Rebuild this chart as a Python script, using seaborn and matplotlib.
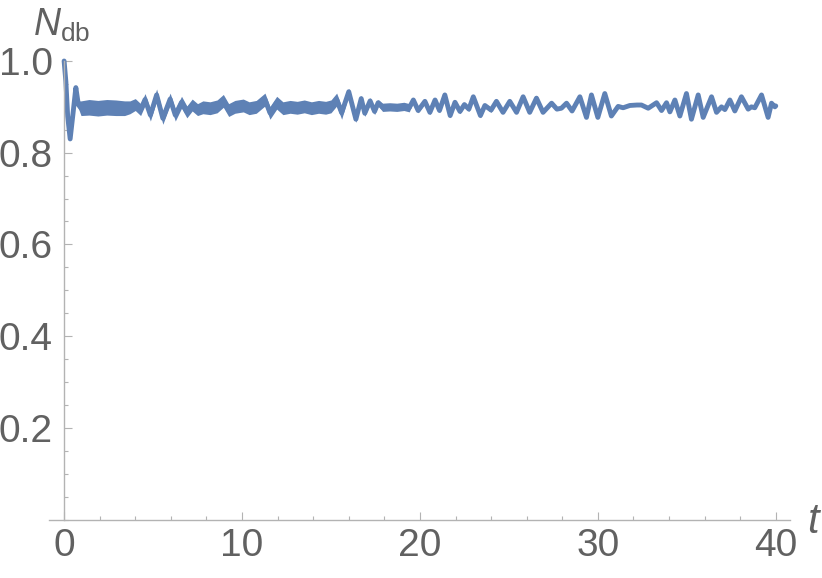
import numpy as np
import pandas as pd
import matplotlib
matplotlib.use('Agg')
import matplotlib.pyplot as plt
from matplotlib.ticker import MultipleLocator
import seaborn as sns

# N_db(t), piece by piece (centre line + half width of the fast jitter band)
t_start = [0.0, 0.1, 0.2, 0.34, 0.5, 0.66, 0.8, 0.95, 1.4, 1.9, 2.4, 2.9, 3.4, 3.7]
n_start = [1.000, 0.955, 0.880, 0.830, 0.885, 0.942, 0.905, 0.897, 0.899, 0.897, 0.899, 0.898, 0.897, 0.899]
band_start = [0.0, 0.0, 0.0, 0.001, 0.001, 0.001, 0.008, 0.016, 0.017, 0.017, 0.017, 0.017, 0.016, 0.014]

t_early = [4.0, 4.3, 4.55, 4.85, 5.2, 5.55, 5.96, 6.25, 6.6, 6.9, 7.2, 7.5]
n_early = [0.905, 0.894, 0.916, 0.882, 0.926, 0.875, 0.917, 0.882, 0.910, 0.889, 0.904, 0.894]

t_mid = [7.8, 8.2, 8.6, 8.95, 9.25, 9.6, 10.07, 10.4, 10.8, 11.29, 11.57, 11.95,
         12.3, 12.7, 13.1, 13.5, 13.9, 14.3, 14.7, 15.0, 15.32, 15.6]
n_mid = [0.899, 0.897, 0.901, 0.913, 0.893, 0.900, 0.903, 0.897, 0.900, 0.916, 0.887, 0.909,
         0.897, 0.900, 0.898, 0.901, 0.897, 0.900, 0.898, 0.901, 0.916, 0.887]

t_beat = [16.0, 16.4, 16.7, 16.9, 17.2, 17.45, 17.65]
n_beat = [0.933, 0.873, 0.918, 0.886, 0.913, 0.890, 0.909]

t_calm = [17.9, 18.3, 18.7, 19.1, 19.4]
n_calm = [0.899, 0.900, 0.899, 0.901, 0.898]

t_late = [19.63, 19.9, 20.28, 20.56, 20.85, 21.1, 21.4, 21.7, 21.97, 22.25, 22.5, 22.75,
          23.0, 23.4, 23.65, 24.0]
n_late = [0.915, 0.892, 0.912, 0.888, 0.915, 0.892, 0.926, 0.881, 0.910, 0.890, 0.905, 0.895,
          0.922, 0.881, 0.903, 0.893]

t_tail = [24.3, 24.67, 25.05, 25.43, 25.8, 26.17, 26.55, 26.92, 27.4, 27.7,
          27.95, 28.24, 28.55, 28.99, 29.36, 29.64, 30.0, 30.39, 30.76, 31.14,
          31.42, 31.8, 32.2, 32.45, 32.83, 33.3, 33.58, 33.86, 34.05, 34.33,
          34.61, 34.98, 35.26, 35.64, 35.92, 36.39, 36.67, 36.95, 37.14, 37.42,
          37.7, 38.07, 38.45, 38.63, 38.82, 39.2, 39.57, 39.76, 39.95, 40.0]
n_tail = [0.912, 0.888, 0.912, 0.888, 0.922, 0.888, 0.919, 0.888, 0.908, 0.895,
          0.897, 0.908, 0.891, 0.922, 0.877, 0.926, 0.877, 0.929, 0.880, 0.901,
          0.898, 0.903, 0.904, 0.904, 0.897, 0.909, 0.892, 0.909, 0.889, 0.915,
          0.880, 0.929, 0.873, 0.926, 0.877, 0.922, 0.888, 0.900, 0.894, 0.915,
          0.891, 0.922, 0.895, 0.900, 0.898, 0.926, 0.877, 0.908, 0.900, 0.902]

# half width of the jitter band for each piece after the start
band_pieces = {'early': 0.013, 'mid': 0.014, 'beat': 0.007, 'calm': 0.009, 'late': 0.005, 'tail': 0.002}

x_ticks = [0, 10, 20, 30, 40]
y_ticks = [0.2, 0.4, 0.6, 0.8, 1.0]

pieces = [
    (t_early, n_early, 'early'), (t_mid, n_mid, 'mid'), (t_beat, n_beat, 'beat'),
    (t_calm, n_calm, 'calm'), (t_late, n_late, 'late'), (t_tail, n_tail, 'tail'),
]
t_all = list(t_start)
n_all = list(n_start)
band_all = list(band_start)
for ts, ns, key in pieces:
    t_all += ts
    n_all += ns
    band_all += [band_pieces[key]] * len(ts)

df = pd.DataFrame({'t': t_all, 'N': n_all, 'band': band_all})

sns.set_style('white')
plt.rcParams['font.family'] = ['Liberation Sans', 'DejaVu Sans']
plt.rcParams['mathtext.fontset'] = 'custom'
plt.rcParams['mathtext.rm'] = 'Liberation Sans'
plt.rcParams['mathtext.it'] = 'Liberation Sans:italic'

line_col = '#5E81B5'
axis_col = '#b3b3b3'
text_col = '#616161'

fig = plt.figure(figsize=(8.22, 5.78), dpi=100)
ax = fig.add_axes([48.8 / 822, 58.5 / 578, (790 - 48.8) / 822, (519.5 - 61) / 578])

ax.fill_between(df['t'], df['N'] - df['band'], df['N'] + df['band'],
                color=line_col, linewidth=0, clip_on=False)
sns.lineplot(data=df, x='t', y='N', ax=ax, color=line_col, linewidth=3.5,
             estimator=None, sort=False, clip_on=False,
             solid_joinstyle='round', solid_capstyle='round')

ax.set_xlim(-0.86, 40.8)
ax.set_ylim(0, 1.0)

for side in ['top', 'right']:
    ax.spines[side].set_visible(False)
ax.spines['left'].set_position(('data', 0))
ax.spines['bottom'].set_position(('data', 0))
ax.spines['left'].set_bounds(0, 1.0)
for side in ['left', 'bottom']:
    ax.spines[side].set_color(axis_col)
    ax.spines[side].set_linewidth(1.0)

ax.set_xticks(x_ticks)
ax.set_xticklabels([str(v) for v in x_ticks])
ax.set_yticks(y_ticks)
ax.set_yticklabels([f'{v:.1f}' for v in y_ticks])
ax.xaxis.set_minor_locator(MultipleLocator(2))
ax.yaxis.set_minor_locator(MultipleLocator(0.05))
ax.tick_params(which='major', direction='in', length=6, width=0.8, color=axis_col,
               labelsize=28, labelcolor=text_col)
ax.tick_params(which='minor', direction='in', length=3.2, width=0.8, color=axis_col)
ax.tick_params(axis='x', which='major', pad=6)
ax.tick_params(axis='y', which='major', pad=8)
ax.tick_params(axis='both', which='both', bottom=True, left=True)

ax.set_xlabel('')
ax.set_ylabel('')
fig.text(33 / 822, 1 - 36 / 578, r'$\mathit{N}_{\mathrm{db}}$', fontsize=27,
         color=text_col, ha='left', va='baseline')
fig.text(807 / 822, 1 - 533 / 578, 't', fontsize=30, fontstyle='italic',
         color=text_col, ha='left', va='baseline')

fig.savefig('out.png', dpi=100)
